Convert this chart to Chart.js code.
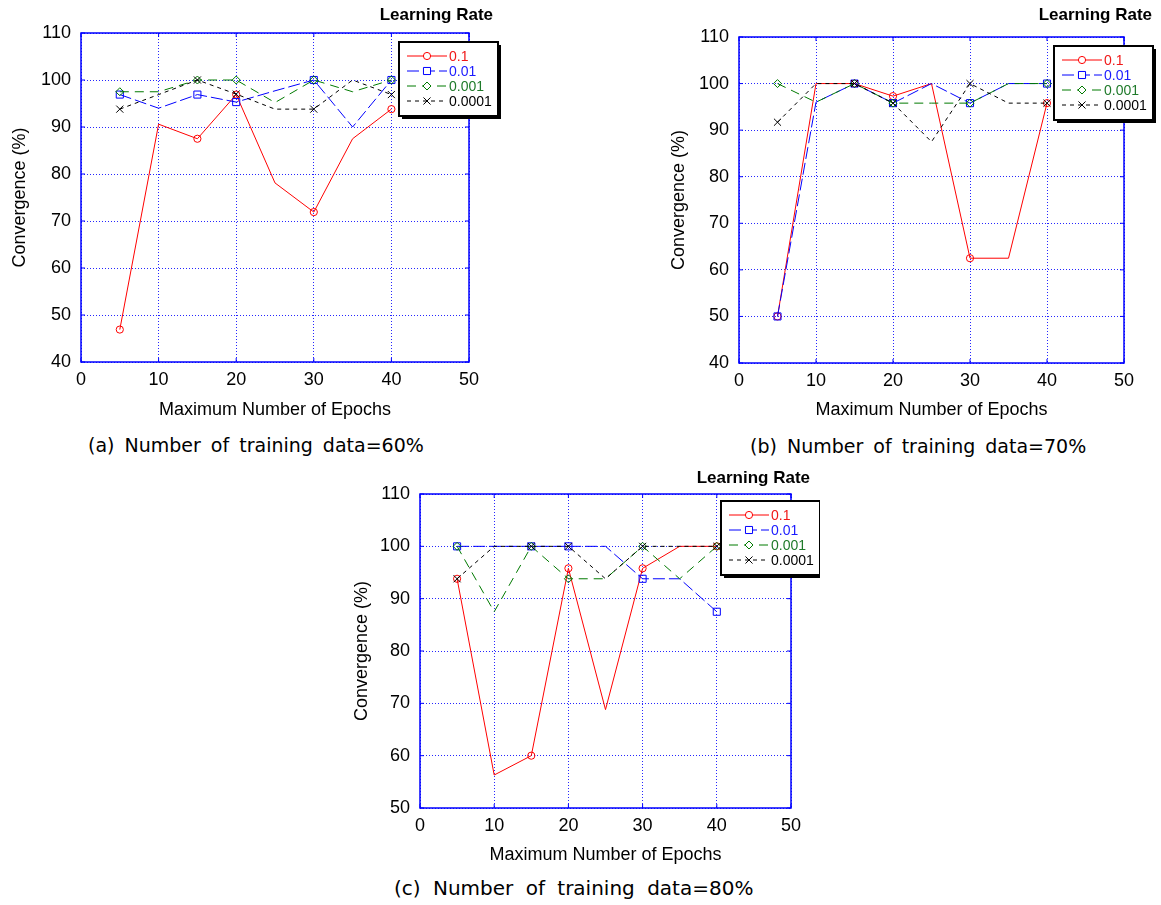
<!DOCTYPE html>
<html>
<head>
<meta charset="utf-8">
<script src="https://cdn.jsdelivr.net/npm/chart.js@4.4.1/dist/chart.umd.min.js"></script>
<style>
    html, body { margin: 0; padding: 0; background: #fff; }
    body { width: 1161px; height: 905px; position: relative; overflow: hidden; }
    .panel { position: absolute; }
    .caption {
        position: absolute;
        font-family: "DejaVu Sans", sans-serif;
        font-size: 19px;
        word-spacing: 4px;
        line-height: 1;
        color: #000;
        white-space: nowrap;
    }
</style>
</head>
<body>
<div class="panel" style="left:0;top:0"><canvas id="chartA" width="510" height="425"></canvas></div>
<div class="panel" style="left:660px;top:0"><canvas id="chartB" width="501" height="425"></canvas></div>
<div class="panel" style="left:340px;top:460px"><canvas id="chartC" width="480" height="410"></canvas></div>

<div class="caption" style="left:88px;top:436px">(a) Number of training data=60%</div>
<div class="caption" style="left:750px;top:437px">(b) Number of training data=70%</div>
<div class="caption" style="left:394px;top:878px;font-size:20px;word-spacing:6px">(c) Number of training data=80%</div>

<script>
// ---------------------------------------------------------
// DATA
// ---------------------------------------------------------
const epochs = [5, 10, 15, 20, 25, 30, 35, 40];
const markerEpochs = [5, 15, 20, 30, 40];
const rateLabels = ['0.1', '0.01', '0.001', '0.0001'];
const xTicks = [0, 10, 20, 30, 40, 50];
const yTicksAB = [40, 50, 60, 70, 80, 90, 100, 110];
const yTicksC = [50, 60, 70, 80, 90, 100, 110];

// (a) training data 60%
const lr1_60 = [46.9, 90.6, 87.5, 96.9, 78.1, 71.9, 87.5, 93.8];
const lr01_60 = [96.9, 94.0, 96.9, 95.3, 97.7, 100, 90.0, 100];
const lr001_60 = [97.5, 97.5, 100, 100, 95.2, 100, 97.5, 100];
const lr0001_60 = [93.8, 96.9, 100, 97.0, 93.8, 93.8, 100, 96.9];

// (b) training data 70%
const lr1_70 = [50.0, 100, 100, 97.3, 100, 62.5, 62.5, 95.8];
const lr01_70 = [50.0, 96.0, 100, 95.8, 100, 95.8, 100, 100];
const lr001_70 = [100, 96.0, 100, 95.8, 95.8, 95.8, 100, 100];
const lr0001_70 = [91.7, 100, 100, 95.8, 87.5, 100, 95.8, 95.8];

// (c) training data 80%
const lr1_80 = [93.8, 56.3, 60.0, 95.8, 68.8, 95.8, 100, 100];
const lr01_80 = [100, 100, 100, 100, 100, 93.8, 93.8, 87.5];
const lr001_80 = [100, 87.5, 100, 93.8, 93.8, 100, 93.8, 100];
const lr0001_80 = [93.8, 100, 100, 100, 93.8, 100, 100, 100];

// ---------------------------------------------------------
// STYLES
// ---------------------------------------------------------
const FONT = '"Liberation Sans", Arial, Helvetica, sans-serif';
const gridBlue = 'rgba(0, 0, 255, 0.85)';
const seriesStyle = [
    { color: '#ff0000', text: '#f01818', dash: [], point: 'circle', radius: 3.6 },
    { color: '#0000ff', text: '#1a1aff', dash: [12, 4], point: 'rect', radius: 5 },
    { color: '#007a00', text: '#1f7a2a', dash: [9, 6], point: 'rectRot', radius: 4 },
    { color: '#000000', text: '#000000', dash: [4, 4], point: 'crossRot', radius: 5 }
];

Chart.defaults.font.family = FONT;
Chart.defaults.color = '#000';

// blue box + inward ticks, like the matlab axes
const axesFrame = {
    id: 'axesFrame',
    afterDatasetsDraw: function (chart) {
        const ctx = chart.ctx;
        const a = chart.chartArea;
        const xs = chart.scales.x, ys = chart.scales.y;
        ctx.save();
        ctx.strokeStyle = '#0000ff';
        ctx.lineWidth = 1.5;
        ctx.setLineDash([]);
        ctx.strokeRect(a.left, a.top, a.right - a.left, a.bottom - a.top);
        ctx.lineWidth = 1;
        ctx.beginPath();
        xs.ticks.forEach(function (t) {
            const px = xs.getPixelForValue(t.value);
            ctx.moveTo(px, a.bottom); ctx.lineTo(px, a.bottom - 4);
            ctx.moveTo(px, a.top); ctx.lineTo(px, a.top + 4);
        });
        ys.ticks.forEach(function (t) {
            const py = ys.getPixelForValue(t.value);
            ctx.moveTo(a.left, py); ctx.lineTo(a.left + 4, py);
            ctx.moveTo(a.right, py); ctx.lineTo(a.right - 4, py);
        });
        ctx.stroke();
        ctx.restore();
    }
};

// legend box with drop shadow + "Learning Rate" header
const rateLegend = {
    id: 'rateLegend',
    afterDraw: function (chart, args, opts) {
        const ctx = chart.ctx;
        const a = chart.chartArea;
        const x = a.right + opts.dx, y = a.top + opts.dy, w = 99, h = 74;
        ctx.save();

        ctx.font = 'bold 17px ' + FONT;
        ctx.fillStyle = '#000';
        ctx.textAlign = 'right';
        ctx.textBaseline = 'middle';
        ctx.fillText('Learning Rate', a.right + opts.titleDx, a.top + opts.titleDy);

        ctx.fillStyle = '#000';
        ctx.fillRect(x + 3, y + 3, w, h);
        ctx.fillStyle = '#fff';
        ctx.fillRect(x, y, w, h);
        ctx.lineWidth = 2;
        ctx.strokeStyle = '#000';
        ctx.strokeRect(x, y, w, h);

        ctx.font = '14px ' + FONT;
        ctx.textAlign = 'left';
        chart.data.datasets.forEach(function (ds, i) {
            const s = seriesStyle[i];
            const ry = y + 14 + i * 15;
            ctx.strokeStyle = s.color;
            ctx.lineWidth = 1;
            ctx.setLineDash(s.dash);
            ctx.beginPath();
            ctx.moveTo(x + 8, ry);
            ctx.lineTo(x + 48, ry);
            ctx.stroke();
            ctx.setLineDash([]);
            ctx.fillStyle = '#fff';
            Chart.helpers.drawPoint(ctx, { pointStyle: s.point, radius: s.radius, rotation: 0, borderWidth: 1 }, x + 28, ry);
            ctx.fillStyle = s.text;
            ctx.fillText(ds.label, x + 50, ry + 1);
        });
        ctx.restore();
    }
};

function buildDatasets(series) {
    return series.map(function (values, i) {
        const s = seriesStyle[i];
        return {
            label: rateLabels[i],
            data: epochs.map(function (e, j) { return { x: e, y: values[j] }; }),
            borderColor: s.color,
            borderWidth: 1,
            borderDash: s.dash,
            backgroundColor: 'rgba(0,0,0,0)',
            pointStyle: s.point,
            pointRadius: function (c) {
                return markerEpochs.indexOf(epochs[c.dataIndex]) >= 0 ? s.radius : 0;
            },
            pointHoverRadius: 0,
            pointBorderWidth: 1,
            pointBorderColor: s.color,
            pointBackgroundColor: 'rgba(0,0,0,0)',
            tension: 0,
            order: series.length - 1 - i
        };
    });
}

function makeChart(id, series, yTicks, cfg) {
    const axisFont = { size: 18 };
    return new Chart(document.getElementById(id), {
        type: 'line',
        data: { datasets: buildDatasets(series) },
        plugins: [axesFrame, rateLegend],
        options: {
            responsive: false,
            animation: false,
            devicePixelRatio: 1,
            layout: { padding: { top: cfg.padTop, right: cfg.padRight, left: 0, bottom: 0 } },
            plugins: {
                legend: { display: false },
                tooltip: { enabled: false },
                rateLegend: { dx: -70, dy: cfg.legendDy, titleDx: cfg.titleDx, titleDy: cfg.titleDy }
            },
            scales: {
                x: {
                    type: 'linear',
                    min: xTicks[0],
                    max: xTicks[xTicks.length - 1],
                    afterBuildTicks: function (s) { s.ticks = xTicks.map(function (v) { return { value: v }; }); },
                    afterFit: function (s) { s.height = cfg.xHeight; },
                    grid: { color: gridBlue, lineWidth: 1, drawTicks: false },
                    border: { display: false, dash: [1, 2] },
                    ticks: { color: '#000', font: axisFont, padding: 7, maxRotation: 0, autoSkip: false },
                    title: { display: true, text: 'Maximum Number of Epochs', color: '#000', font: axisFont, padding: { top: 0, bottom: 4 } }
                },
                y: {
                    type: 'linear',
                    min: yTicks[0],
                    max: yTicks[yTicks.length - 1],
                    afterBuildTicks: function (s) { s.ticks = yTicks.map(function (v) { return { value: v }; }); },
                    afterFit: function (s) { s.width = cfg.yWidth; },
                    grid: { color: gridBlue, lineWidth: 1, drawTicks: false },
                    border: { display: false, dash: [1, 2] },
                    ticks: { color: '#000', font: axisFont, padding: 10, autoSkip: false },
                    title: { display: true, text: 'Convergence (%)', color: '#000', font: axisFont, padding: { top: cfg.yTitlePad, bottom: 0 } }
                }
            }
        }
    });
}

makeChart('chartA', [lr1_60, lr01_60, lr001_60, lr0001_60], yTicksAB, {
    padTop: 33, padRight: 41, yWidth: 81, xHeight: 63, yTitlePad: 9,
    legendDy: 9, titleDx: 24, titleDy: -18
});
makeChart('chartB', [lr1_70, lr01_70, lr001_70, lr0001_70], yTicksAB, {
    padTop: 37, padRight: 37, yWidth: 79, xHeight: 62, yTitlePad: 8,
    legendDy: 9, titleDx: 28, titleDy: -22
});
makeChart('chartC', [lr1_80, lr01_80, lr001_80, lr0001_80], yTicksC, {
    padTop: 34, padRight: 29, yWidth: 80, xHeight: 62, yTitlePad: 11,
    legendDy: 7, titleDx: 19, titleDy: -16
});
</script>
</body>
</html>
